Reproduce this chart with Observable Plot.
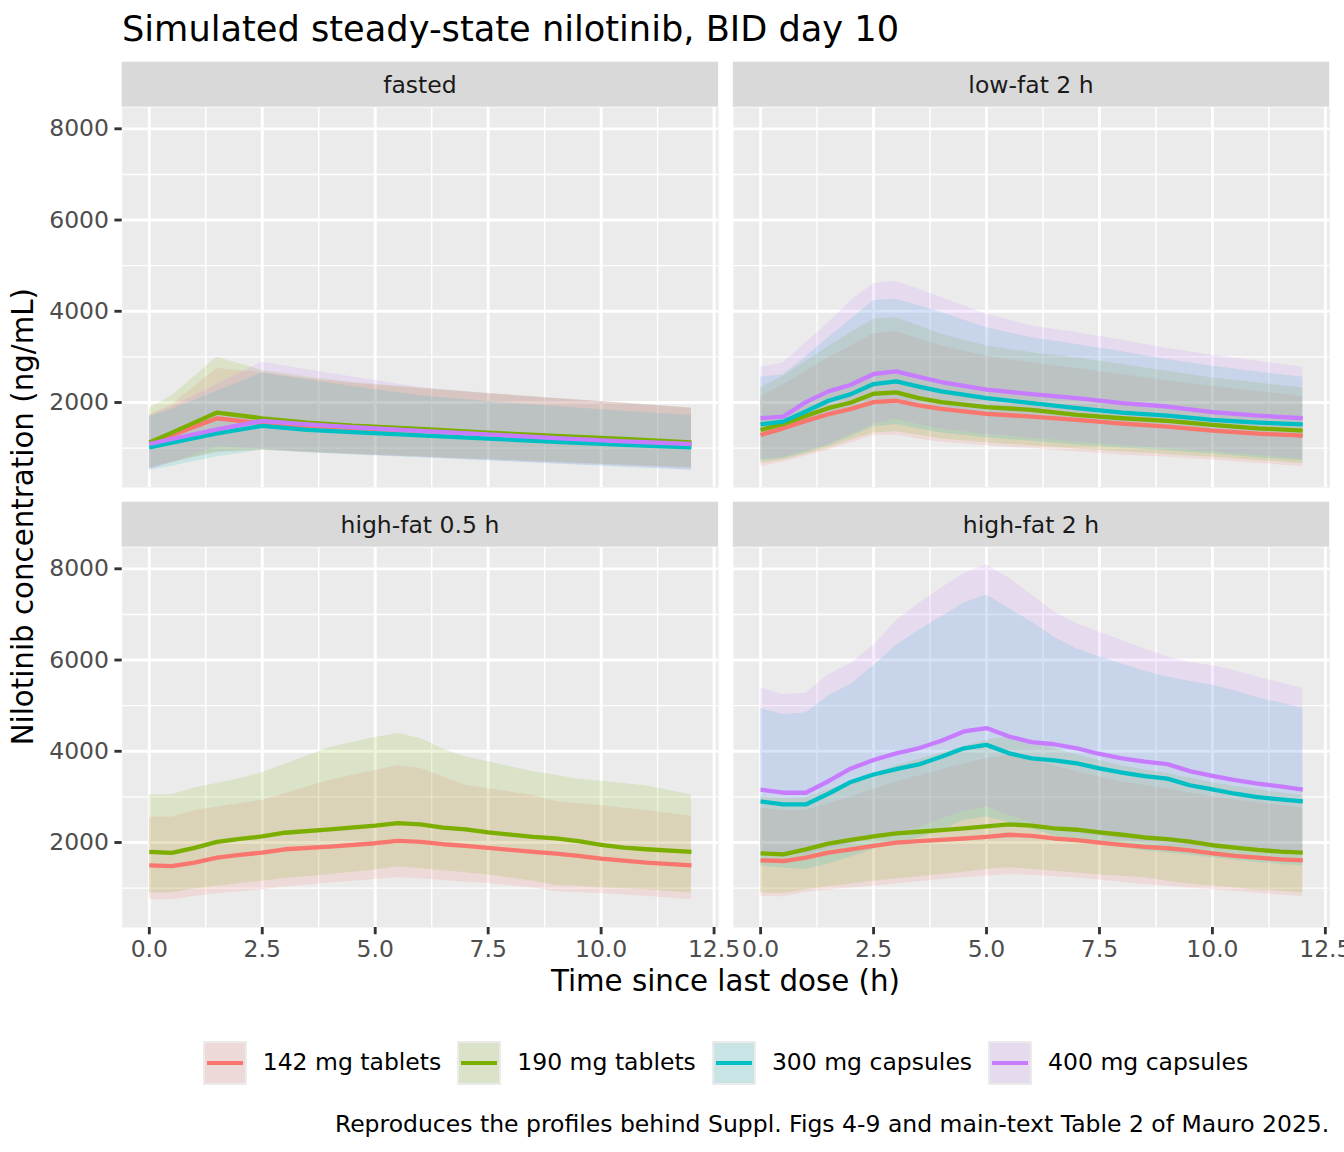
<!DOCTYPE html>
<html>
<head>
<meta charset="utf-8">
<script src="https://cdn.jsdelivr.net/npm/d3@7"></script>
<script src="https://cdn.jsdelivr.net/npm/@observablehq/plot@0.6"></script>
<style>
  html, body { margin: 0; padding: 0; background: #ffffff; }
  #root { position: relative; width: 1344px; height: 1152px; overflow: hidden; font-family: "DejaVu Sans", sans-serif; background: #ffffff; }
  #overlay { position: absolute; left: 0; top: 0; pointer-events: none; }
  #legend { position: absolute; left: 0; top: 1041px; width: 1451px; height: 44px; display: flex; justify-content: center; align-items: center; }
  .item { display: flex; align-items: center; margin: 0 8px; }
  .key { position: relative; width: 44px; height: 44px; background: #EBEBEB; }
  .keyfill { position: absolute; left: 2px; top: 2px; right: 2px; bottom: 2px; }
  .keyline { position: absolute; left: 4px; right: 4px; top: 19.85px; height: 4.3px; }
  .lab { margin-left: 16px; font-size: 23.5px; color: #000; white-space: nowrap; line-height: 1; }
</style>
</head>
<body>
<div id="root"></div>
<script>
// ---------------- data ----------------
const seriesNames = ["142 mg tablets", "190 mg tablets", "300 mg capsules", "400 mg capsules"];
const seriesColors = ["#F8766D", "#7CAE00", "#00BFC4", "#C77CFF"];
const panelNames = ["fasted", "low-fat 2 h", "high-fat 0.5 h", "high-fat 2 h"];
const xTicks = [0, 2.5, 5, 7.5, 10, 12.5];
const xMinorTicks = [1.25, 3.75, 6.25, 8.75, 11.25];
const yTicks = [2000, 4000, 6000, 8000];
const yMinorTicks = [1000, 3000, 5000, 7000];

// fasted
const fastedTime = [0, 0.5, 1.5, 2.5, 3.5, 4.5, 6, 7.5, 9, 10.5, 12];
const F142med = [1103, 1280, 1654, 1544, 1490, 1440, 1380, 1310, 1240, 1170, 1100];
const F142lo  = [560, 680, 900, 956, 900, 860, 800, 740, 680, 620, 560];
const F142hi  = [1729, 1950, 2744, 2650, 2520, 2420, 2300, 2190, 2080, 1980, 1875];
const F190med = [1125, 1340, 1780, 1654, 1560, 1490, 1420, 1340, 1270, 1200, 1125];
const F190lo  = [560, 690, 920, 960, 910, 870, 810, 750, 690, 630, 570];
const F190hi  = [1875, 2150, 2993, 2700, 2560, 2440, 2320, 2200, 2090, 1990, 1880];
const F300med = [1015, 1120, 1324, 1487, 1400, 1350, 1280, 1210, 1140, 1070, 1015];
const F300lo  = [516, 600, 810, 956, 900, 850, 790, 720, 650, 580, 516];
const F300hi  = [1691, 1850, 2250, 2648, 2500, 2350, 2150, 2020, 1910, 1810, 1714];
const F400med = [1090, 1200, 1412, 1597, 1520, 1460, 1380, 1300, 1220, 1150, 1090];
const F400lo  = [516, 680, 1030, 980, 920, 860, 800, 730, 660, 590, 520];
const F400hi  = [1691, 1900, 2400, 2882, 2720, 2560, 2330, 2200, 2090, 1990, 1875];

// low-fat 2 h
const lowTime = [0, 0.5, 1, 1.5, 2, 2.5, 3, 3.5, 4, 5, 6, 7, 8, 9, 10, 11, 12];
const L142med = [1288, 1434, 1597, 1743, 1861, 2007, 2038, 1935, 1861, 1751, 1692, 1619, 1538, 1471, 1383, 1317, 1273];
const L142lo  = [590, 700, 820, 960, 1120, 1270, 1290, 1200, 1130, 1050, 990, 920, 850, 800, 740, 670, 590];
const L142hi  = [2133, 2391, 2684, 2978, 3236, 3507, 3551, 3390, 3236, 3015, 2868, 2744, 2611, 2479, 2354, 2243, 2133];
const L190med = [1398, 1530, 1707, 1875, 2000, 2192, 2221, 2096, 2007, 1897, 1840, 1729, 1655, 1597, 1509, 1434, 1383];
const L190lo  = [660, 740, 860, 1000, 1180, 1330, 1360, 1280, 1200, 1120, 1050, 980, 920, 860, 800, 730, 660];
const L190hi  = [2316, 2574, 2905, 3214, 3530, 3825, 3860, 3680, 3494, 3236, 3088, 2978, 2832, 2684, 2537, 2426, 2316];
const L300med = [1522, 1581, 1802, 2037, 2184, 2404, 2464, 2350, 2243, 2096, 1985, 1875, 1780, 1714, 1619, 1560, 1522];
const L300lo  = [720, 770, 900, 1050, 1250, 1470, 1520, 1420, 1330, 1230, 1150, 1070, 1000, 940, 870, 790, 720];
const L300hi  = [2552, 2611, 3000, 3419, 3825, 4228, 4266, 4120, 3971, 3640, 3419, 3273, 3110, 2942, 2795, 2669, 2552];
const L400med = [1655, 1691, 2008, 2243, 2390, 2625, 2684, 2560, 2449, 2280, 2184, 2096, 1985, 1912, 1787, 1714, 1655];
const L400lo  = [760, 800, 930, 1080, 1300, 1530, 1640, 1520, 1420, 1300, 1220, 1130, 1060, 990, 920, 840, 760];
const L400hi  = [2773, 2868, 3309, 3750, 4228, 4610, 4654, 4480, 4302, 3936, 3677, 3530, 3362, 3185, 3038, 2905, 2773];

// high-fat 0.5 h
const hf05Time = [0, 0.5, 1, 1.5, 2, 2.5, 3, 4, 5, 5.5, 6, 6.5, 7, 7.5, 8.5, 9, 9.5, 10, 10.5, 11, 12];
const H142med = [1497, 1483, 1557, 1667, 1730, 1778, 1852, 1911, 1984, 2037, 2015, 1962, 1926, 1882, 1793, 1756, 1705, 1645, 1601, 1557, 1497];
const H142lo  = [745, 745, 819, 877, 920, 966, 1025, 1114, 1188, 1225, 1203, 1165, 1129, 1100, 1000, 920, 900, 880, 850, 820, 745];
const H142hi  = [2553, 2553, 2701, 2775, 2850, 2922, 3069, 3365, 3580, 3682, 3623, 3439, 3255, 3180, 3033, 2900, 2848, 2812, 2753, 2701, 2575];
const H190med = [1793, 1771, 1882, 2015, 2080, 2132, 2214, 2290, 2370, 2427, 2398, 2325, 2290, 2221, 2125, 2089, 2029, 1948, 1889, 1852, 1793];
const H190lo  = [892, 892, 981, 1040, 1100, 1151, 1203, 1298, 1395, 1468, 1424, 1380, 1336, 1290, 1150, 1060, 1040, 1003, 985, 966, 892];
const H190hi  = [3047, 3047, 3195, 3291, 3400, 3534, 3711, 4080, 4300, 4390, 4280, 4050, 3881, 3771, 3549, 3476, 3387, 3343, 3291, 3239, 3047];

// high-fat 2 h
const hf2Time = [0, 0.5, 1, 1.5, 2, 2.5, 3, 3.5, 4, 4.5, 5, 5.5, 6, 6.5, 7, 7.5, 8, 8.5, 9, 9.5, 10, 10.5, 11, 11.5, 12];
const B142med = [1607, 1594, 1667, 1778, 1851, 1926, 1999, 2029, 2059, 2088, 2125, 2170, 2147, 2088, 2051, 1999, 1948, 1904, 1874, 1829, 1763, 1705, 1667, 1630, 1607];
const B142lo  = [819, 810, 908, 960, 1000, 1040, 1090, 1140, 1188, 1230, 1260, 1300, 1280, 1250, 1220, 1180, 1130, 1077, 1040, 1000, 966, 930, 890, 850, 819];
const B142hi  = [2752, 2700, 2701, 2850, 2996, 3166, 3328, 3460, 3587, 3720, 3844, 3903, 3808, 3680, 3549, 3440, 3328, 3250, 3180, 3090, 2996, 2930, 2870, 2810, 2752];
const B190med = [1763, 1740, 1851, 1977, 2059, 2132, 2199, 2236, 2272, 2309, 2354, 2398, 2369, 2309, 2280, 2221, 2170, 2110, 2072, 2021, 1940, 1889, 1838, 1800, 1778];
const B190lo  = [893, 880, 966, 1030, 1090, 1151, 1200, 1250, 1298, 1350, 1409, 1446, 1410, 1372, 1330, 1290, 1260, 1225, 1150, 1090, 1040, 1000, 960, 930, 893];
const B190hi  = [3000, 2960, 2980, 3150, 3320, 3500, 3680, 3820, 3960, 4100, 4240, 4320, 4200, 4060, 3920, 3800, 3680, 3590, 3510, 3410, 3310, 3230, 3160, 3090, 3020];
const B300med = [2900, 2834, 2834, 3069, 3328, 3490, 3609, 3711, 3881, 4066, 4140, 3955, 3844, 3800, 3733, 3623, 3534, 3454, 3401, 3255, 3166, 3069, 2996, 2945, 2900];
const B300lo  = [1483, 1440, 1409, 1530, 1680, 1851, 1960, 2100, 2258, 2480, 2560, 2442, 2290, 2147, 2060, 1980, 1900, 1815, 1770, 1720, 1667, 1610, 1560, 1520, 1483];
const B300hi  = [4937, 4804, 4840, 5210, 5469, 5874, 6317, 6649, 6943, 7253, 7424, 7129, 6833, 6500, 6244, 6073, 5911, 5748, 5630, 5527, 5447, 5320, 5172, 5061, 4937];
const B400med = [3158, 3091, 3091, 3343, 3623, 3808, 3955, 4066, 4229, 4435, 4508, 4324, 4199, 4154, 4066, 3941, 3844, 3771, 3719, 3565, 3461, 3365, 3291, 3232, 3158];
const B400lo  = [1815, 1760, 1741, 1850, 1960, 2072, 2200, 2330, 2516, 2679, 2780, 2591, 2440, 2294, 2200, 2130, 2060, 1999, 1950, 1900, 1860, 1840, 1830, 1820, 1815];
const B400hi  = [5380, 5247, 5269, 5675, 5925, 6317, 6855, 7240, 7572, 7904, 8088, 7793, 7424, 7054, 6797, 6611, 6427, 6244, 6073, 5947, 5874, 5763, 5630, 5504, 5380];

// ---------------- build tables ----------------
function rows(times, series, med, lo, hi) {
  return times.map((t, i) => ({ t, series, med: med[i], lo: lo[i], hi: hi[i] }));
}
const panels = [
  [ ...rows(fastedTime, seriesNames[0], F142med, F142lo, F142hi),
    ...rows(fastedTime, seriesNames[1], F190med, F190lo, F190hi),
    ...rows(fastedTime, seriesNames[2], F300med, F300lo, F300hi),
    ...rows(fastedTime, seriesNames[3], F400med, F400lo, F400hi) ],
  [ ...rows(lowTime, seriesNames[0], L142med, L142lo, L142hi),
    ...rows(lowTime, seriesNames[1], L190med, L190lo, L190hi),
    ...rows(lowTime, seriesNames[2], L300med, L300lo, L300hi),
    ...rows(lowTime, seriesNames[3], L400med, L400lo, L400hi) ],
  [ ...rows(hf05Time, seriesNames[0], H142med, H142lo, H142hi),
    ...rows(hf05Time, seriesNames[1], H190med, H190lo, H190hi) ],
  [ ...rows(hf2Time, seriesNames[0], B142med, B142lo, B142hi),
    ...rows(hf2Time, seriesNames[1], B190med, B190lo, B190hi),
    ...rows(hf2Time, seriesNames[2], B300med, B300lo, B300hi),
    ...rows(hf2Time, seriesNames[3], B400med, B400lo, B400hi) ]
];

// ---------------- layout ----------------
const root = document.getElementById("root");
const PW = 596.4, PH = 380;
const colLeft = [121.7, 732.8];
const rowTop = [106.7, 546.7];
const stripH = 45;
const FONT = "DejaVu Sans";
const yDomain = [137, 8467];
const xDomain = [-0.6, 12.6];

function makePanel(idx) {
  const col = idx % 2, row = Math.floor(idx / 2);
  const showY = col === 0, showX = row === 1;
  const ml = showY ? colLeft[0] : 0;
  const mb = showX ? 50 : 0;
  const marks = [
    Plot.frame({ fill: "#EBEBEB", stroke: "none" }),
    Plot.ruleX(xMinorTicks, { stroke: "#FFFFFF", strokeWidth: 1.42 }),
    Plot.ruleY(yMinorTicks, { stroke: "#FFFFFF", strokeWidth: 1.42 }),
    Plot.ruleX(xTicks, { stroke: "#FFFFFF", strokeWidth: 2.85 }),
    Plot.ruleY(yTicks, { stroke: "#FFFFFF", strokeWidth: 2.85 }),
    Plot.areaY(panels[idx], { x: "t", y1: "lo", y2: "hi", fill: "series", z: "series", fillOpacity: 0.15 }),
    Plot.lineY(panels[idx], { x: "t", y: "med", stroke: "series", z: "series", strokeWidth: 4.3, strokeLinecap: "butt", strokeLinejoin: "round" })
  ];
  if (showY) marks.push(Plot.axisY(yTicks, {
    anchor: "left", tickSize: 7.3, tickPadding: 5.9, tickFormat: d => String(d),
    fontSize: 23.5, fill: "#4D4D4D", stroke: "#333333", strokeWidth: 2.85, label: null
  }));
  if (showX) marks.push(Plot.axisX(xTicks, {
    anchor: "bottom", tickSize: 7.3, tickPadding: 5.9, tickFormat: d => d.toFixed(1),
    fontSize: 23.5, fill: "#4D4D4D", stroke: "#333333", strokeWidth: 2.85, label: null
  }));
  const svg = Plot.plot({
    width: ml + PW, height: PH + mb,
    marginLeft: ml, marginRight: 0, marginTop: 0, marginBottom: mb,
    x: { domain: xDomain, axis: null },
    y: { domain: yDomain, axis: null },
    color: { domain: seriesNames, range: seriesColors },
    style: { background: "transparent", overflow: "visible", fontFamily: FONT, fontSize: "23.5px", color: "#4D4D4D", maxWidth: "none" },
    marks
  });
  svg.style.position = "absolute";
  svg.style.left = (col === 0 ? 0 : colLeft[1]) + "px";
  svg.style.top = rowTop[row] + "px";
  root.appendChild(svg);
}
[0, 1, 2, 3].forEach(makePanel);

// ---------------- overlay text (title, strips, axis titles, caption) ----------------
const NS = "http://www.w3.org/2000/svg";
const ov = document.createElementNS(NS, "svg");
ov.setAttribute("id", "overlay");
ov.setAttribute("width", 1344);
ov.setAttribute("height", 1152);
ov.setAttribute("font-family", FONT);
root.appendChild(ov);
function txt(x, y, s, size, opts = {}) {
  const t = document.createElementNS(NS, "text");
  t.setAttribute("x", x); t.setAttribute("y", y);
  t.setAttribute("font-size", size);
  t.setAttribute("fill", opts.fill || "#000000");
  t.setAttribute("text-anchor", opts.anchor || "start");
  if (opts.transform) t.setAttribute("transform", opts.transform);
  t.textContent = s;
  ov.appendChild(t);
  return t;
}
// strips
panelNames.forEach((name, idx) => {
  const col = idx % 2, row = Math.floor(idx / 2);
  const x0 = colLeft[col], y0 = rowTop[row] - stripH;
  const r = document.createElementNS(NS, "rect");
  r.setAttribute("x", x0); r.setAttribute("y", y0);
  r.setAttribute("width", PW); r.setAttribute("height", stripH);
  r.setAttribute("fill", "#D9D9D9");
  ov.appendChild(r);
  txt(x0 + PW / 2, y0 + stripH / 2 + 8.4, name, 23.5, { anchor: "middle", fill: "#1A1A1A" });
});
txt(122, 41, "Simulated steady-state nilotinib, BID day 10", 35.2);
txt(725.5, 991, "Time since last dose (h)", 29.3, { anchor: "middle" });
txt(0, 0, "Nilotinib concentration (ng/mL)", 29.3, { anchor: "middle", transform: "translate(33,516.7) rotate(-90)" });
txt(1329.3, 1132, "Reproduces the profiles behind Suppl. Figs 4-9 and main-text Table 2 of Mauro 2025.", 23.5, { anchor: "end" });

// ---------------- legend ----------------
const leg = document.createElement("div");
leg.id = "legend";
seriesNames.forEach((name, i) => {
  const item = document.createElement("div"); item.className = "item";
  const key = document.createElement("div"); key.className = "key";
  const c = d3.color(seriesColors[i]);
  const kf = document.createElement("div"); kf.className = "keyfill";
  kf.style.background = `rgba(${c.r},${c.g},${c.b},0.15)`;
  const kl = document.createElement("div"); kl.className = "keyline";
  kl.style.background = seriesColors[i];
  key.appendChild(kf); key.appendChild(kl);
  const lab = document.createElement("div"); lab.className = "lab"; lab.textContent = name;
  item.appendChild(key); item.appendChild(lab);
  leg.appendChild(item);
});
root.appendChild(leg);
</script>
</body>
</html>
